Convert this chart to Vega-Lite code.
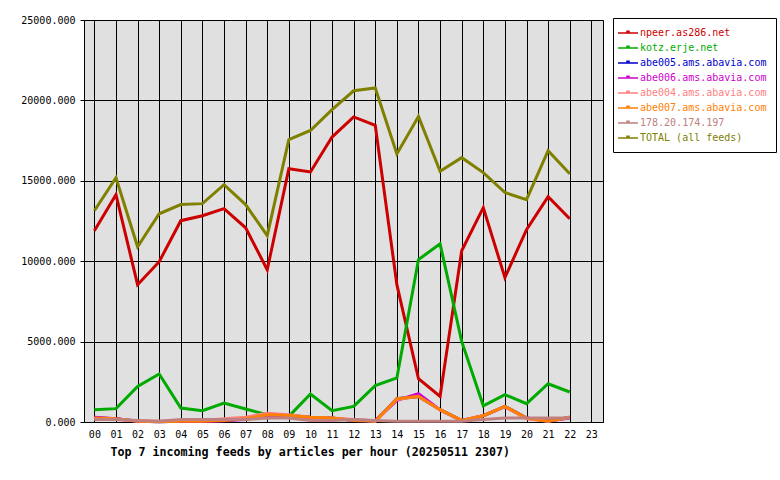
{
  "$schema": "https://vega.github.io/schema/vega-lite/v6.json",
  "width": 519,
  "height": 402,
  "autosize": {"type": "none"},
  "padding": {"left": 84, "top": 20, "right": 177, "bottom": 58},
  "background": "white",
  "config": {
    "view": {"fill": "#E0E0E0", "stroke": "black", "strokeWidth": 1},
    "font": "DejaVu Sans Mono"
  },
  "data": {"values": [
    {"h":0,"f":"npeer.as286.net","v":11900},{"h":1,"f":"npeer.as286.net","v":14140},{"h":2,"f":"npeer.as286.net","v":8540},{"h":3,"f":"npeer.as286.net","v":9970},{"h":4,"f":"npeer.as286.net","v":12520},{"h":5,"f":"npeer.as286.net","v":12830},{"h":6,"f":"npeer.as286.net","v":13270},{"h":7,"f":"npeer.as286.net","v":12080},{"h":8,"f":"npeer.as286.net","v":9470},{"h":9,"f":"npeer.as286.net","v":15750},{"h":10,"f":"npeer.as286.net","v":15550},{"h":11,"f":"npeer.as286.net","v":17720},{"h":12,"f":"npeer.as286.net","v":18970},{"h":13,"f":"npeer.as286.net","v":18450},{"h":14,"f":"npeer.as286.net","v":8540},{"h":15,"f":"npeer.as286.net","v":2690},{"h":16,"f":"npeer.as286.net","v":1590},{"h":17,"f":"npeer.as286.net","v":10650},{"h":18,"f":"npeer.as286.net","v":13330},{"h":19,"f":"npeer.as286.net","v":8980},{"h":20,"f":"npeer.as286.net","v":11960},{"h":21,"f":"npeer.as286.net","v":14010},{"h":22,"f":"npeer.as286.net","v":12640},
    {"h":0,"f":"kotz.erje.net","v":765},{"h":1,"f":"kotz.erje.net","v":830},{"h":2,"f":"kotz.erje.net","v":2215},{"h":3,"f":"kotz.erje.net","v":2985},{"h":4,"f":"kotz.erje.net","v":870},{"h":5,"f":"kotz.erje.net","v":700},{"h":6,"f":"kotz.erje.net","v":1180},{"h":7,"f":"kotz.erje.net","v":810},{"h":8,"f":"kotz.erje.net","v":450},{"h":9,"f":"kotz.erje.net","v":350},{"h":10,"f":"kotz.erje.net","v":1740},{"h":11,"f":"kotz.erje.net","v":700},{"h":12,"f":"kotz.erje.net","v":970},{"h":13,"f":"kotz.erje.net","v":2260},{"h":14,"f":"kotz.erje.net","v":2740},{"h":15,"f":"kotz.erje.net","v":10100},{"h":16,"f":"kotz.erje.net","v":11080},{"h":17,"f":"kotz.erje.net","v":5010},{"h":18,"f":"kotz.erje.net","v":1010},{"h":19,"f":"kotz.erje.net","v":1700},{"h":20,"f":"kotz.erje.net","v":1140},{"h":21,"f":"kotz.erje.net","v":2380},{"h":22,"f":"kotz.erje.net","v":1865},
    {"h":0,"f":"abe005.ams.abavia.com","v":250},{"h":1,"f":"abe005.ams.abavia.com","v":200},{"h":2,"f":"abe005.ams.abavia.com","v":50},{"h":3,"f":"abe005.ams.abavia.com","v":20},{"h":4,"f":"abe005.ams.abavia.com","v":50},{"h":5,"f":"abe005.ams.abavia.com","v":50},{"h":6,"f":"abe005.ams.abavia.com","v":100},{"h":7,"f":"abe005.ams.abavia.com","v":200},{"h":8,"f":"abe005.ams.abavia.com","v":450},{"h":9,"f":"abe005.ams.abavia.com","v":410},{"h":10,"f":"abe005.ams.abavia.com","v":300},{"h":11,"f":"abe005.ams.abavia.com","v":250},{"h":12,"f":"abe005.ams.abavia.com","v":100},{"h":13,"f":"abe005.ams.abavia.com","v":50},{"h":14,"f":"abe005.ams.abavia.com","v":1450},{"h":15,"f":"abe005.ams.abavia.com","v":1590},{"h":16,"f":"abe005.ams.abavia.com","v":765},{"h":17,"f":"abe005.ams.abavia.com","v":100},{"h":18,"f":"abe005.ams.abavia.com","v":390},{"h":19,"f":"abe005.ams.abavia.com","v":970},{"h":20,"f":"abe005.ams.abavia.com","v":250},{"h":21,"f":"abe005.ams.abavia.com","v":50},{"h":22,"f":"abe005.ams.abavia.com","v":300},
    {"h":0,"f":"abe006.ams.abavia.com","v":300},{"h":1,"f":"abe006.ams.abavia.com","v":200},{"h":2,"f":"abe006.ams.abavia.com","v":50},{"h":3,"f":"abe006.ams.abavia.com","v":30},{"h":4,"f":"abe006.ams.abavia.com","v":50},{"h":5,"f":"abe006.ams.abavia.com","v":50},{"h":6,"f":"abe006.ams.abavia.com","v":80},{"h":7,"f":"abe006.ams.abavia.com","v":150},{"h":8,"f":"abe006.ams.abavia.com","v":400},{"h":9,"f":"abe006.ams.abavia.com","v":380},{"h":10,"f":"abe006.ams.abavia.com","v":280},{"h":11,"f":"abe006.ams.abavia.com","v":220},{"h":12,"f":"abe006.ams.abavia.com","v":120},{"h":13,"f":"abe006.ams.abavia.com","v":80},{"h":14,"f":"abe006.ams.abavia.com","v":1350},{"h":15,"f":"abe006.ams.abavia.com","v":1760},{"h":16,"f":"abe006.ams.abavia.com","v":750},{"h":17,"f":"abe006.ams.abavia.com","v":80},{"h":18,"f":"abe006.ams.abavia.com","v":380},{"h":19,"f":"abe006.ams.abavia.com","v":950},{"h":20,"f":"abe006.ams.abavia.com","v":250},{"h":21,"f":"abe006.ams.abavia.com","v":60},{"h":22,"f":"abe006.ams.abavia.com","v":250},
    {"h":0,"f":"abe004.ams.abavia.com","v":200},{"h":1,"f":"abe004.ams.abavia.com","v":150},{"h":2,"f":"abe004.ams.abavia.com","v":80},{"h":3,"f":"abe004.ams.abavia.com","v":40},{"h":4,"f":"abe004.ams.abavia.com","v":100},{"h":5,"f":"abe004.ams.abavia.com","v":100},{"h":6,"f":"abe004.ams.abavia.com","v":200},{"h":7,"f":"abe004.ams.abavia.com","v":300},{"h":8,"f":"abe004.ams.abavia.com","v":550},{"h":9,"f":"abe004.ams.abavia.com","v":450},{"h":10,"f":"abe004.ams.abavia.com","v":300},{"h":11,"f":"abe004.ams.abavia.com","v":250},{"h":12,"f":"abe004.ams.abavia.com","v":150},{"h":13,"f":"abe004.ams.abavia.com","v":50},{"h":14,"f":"abe004.ams.abavia.com","v":1400},{"h":15,"f":"abe004.ams.abavia.com","v":1600},{"h":16,"f":"abe004.ams.abavia.com","v":750},{"h":17,"f":"abe004.ams.abavia.com","v":100},{"h":18,"f":"abe004.ams.abavia.com","v":400},{"h":19,"f":"abe004.ams.abavia.com","v":950},{"h":20,"f":"abe004.ams.abavia.com","v":200},{"h":21,"f":"abe004.ams.abavia.com","v":50},{"h":22,"f":"abe004.ams.abavia.com","v":300},
    {"h":0,"f":"abe007.ams.abavia.com","v":250},{"h":1,"f":"abe007.ams.abavia.com","v":200},{"h":2,"f":"abe007.ams.abavia.com","v":50},{"h":3,"f":"abe007.ams.abavia.com","v":20},{"h":4,"f":"abe007.ams.abavia.com","v":50},{"h":5,"f":"abe007.ams.abavia.com","v":50},{"h":6,"f":"abe007.ams.abavia.com","v":100},{"h":7,"f":"abe007.ams.abavia.com","v":200},{"h":8,"f":"abe007.ams.abavia.com","v":450},{"h":9,"f":"abe007.ams.abavia.com","v":410},{"h":10,"f":"abe007.ams.abavia.com","v":300},{"h":11,"f":"abe007.ams.abavia.com","v":250},{"h":12,"f":"abe007.ams.abavia.com","v":100},{"h":13,"f":"abe007.ams.abavia.com","v":50},{"h":14,"f":"abe007.ams.abavia.com","v":1450},{"h":15,"f":"abe007.ams.abavia.com","v":1590},{"h":16,"f":"abe007.ams.abavia.com","v":765},{"h":17,"f":"abe007.ams.abavia.com","v":100},{"h":18,"f":"abe007.ams.abavia.com","v":390},{"h":19,"f":"abe007.ams.abavia.com","v":970},{"h":20,"f":"abe007.ams.abavia.com","v":250},{"h":21,"f":"abe007.ams.abavia.com","v":50},{"h":22,"f":"abe007.ams.abavia.com","v":300},
    {"h":0,"f":"178.20.174.197","v":150},{"h":1,"f":"178.20.174.197","v":150},{"h":2,"f":"178.20.174.197","v":100},{"h":3,"f":"178.20.174.197","v":50},{"h":4,"f":"178.20.174.197","v":150},{"h":5,"f":"178.20.174.197","v":150},{"h":6,"f":"178.20.174.197","v":150},{"h":7,"f":"178.20.174.197","v":150},{"h":8,"f":"178.20.174.197","v":250},{"h":9,"f":"178.20.174.197","v":250},{"h":10,"f":"178.20.174.197","v":100},{"h":11,"f":"178.20.174.197","v":100},{"h":12,"f":"178.20.174.197","v":150},{"h":13,"f":"178.20.174.197","v":100},{"h":14,"f":"178.20.174.197","v":50},{"h":15,"f":"178.20.174.197","v":50},{"h":16,"f":"178.20.174.197","v":50},{"h":17,"f":"178.20.174.197","v":50},{"h":18,"f":"178.20.174.197","v":150},{"h":19,"f":"178.20.174.197","v":250},{"h":20,"f":"178.20.174.197","v":250},{"h":21,"f":"178.20.174.197","v":250},{"h":22,"f":"178.20.174.197","v":250},
    {"h":0,"f":"TOTAL (all feeds)","v":13140},{"h":1,"f":"TOTAL (all feeds)","v":15190},{"h":2,"f":"TOTAL (all feeds)","v":10900},{"h":3,"f":"TOTAL (all feeds)","v":12950},{"h":4,"f":"TOTAL (all feeds)","v":13520},{"h":5,"f":"TOTAL (all feeds)","v":13580},{"h":6,"f":"TOTAL (all feeds)","v":14760},{"h":7,"f":"TOTAL (all feeds)","v":13520},{"h":8,"f":"TOTAL (all feeds)","v":11590},{"h":9,"f":"TOTAL (all feeds)","v":17560},{"h":10,"f":"TOTAL (all feeds)","v":18130},{"h":11,"f":"TOTAL (all feeds)","v":19420},{"h":12,"f":"TOTAL (all feeds)","v":20600},{"h":13,"f":"TOTAL (all feeds)","v":20770},{"h":14,"f":"TOTAL (all feeds)","v":16670},{"h":15,"f":"TOTAL (all feeds)","v":19000},{"h":16,"f":"TOTAL (all feeds)","v":15590},{"h":17,"f":"TOTAL (all feeds)","v":16440},{"h":18,"f":"TOTAL (all feeds)","v":15510},{"h":19,"f":"TOTAL (all feeds)","v":14270},{"h":20,"f":"TOTAL (all feeds)","v":13830},{"h":21,"f":"TOTAL (all feeds)","v":16870},{"h":22,"f":"TOTAL (all feeds)","v":15440}
  ]},
  "mark": {"type": "line", "strokeWidth": 3, "strokeCap": "butt", "strokeJoin": "miter"},
  "encoding": {
    "x": {
      "field": "h", "type": "quantitative",
      "scale": {"domain": [-0.48, 23.54], "nice": false, "zero": false},
      "axis": {
        "values": [0,1,2,3,4,5,6,7,8,9,10,11,12,13,14,15,16,17,18,19,20,21,22,23],
        "labelExpr": "datum.value < 10 ? '0' + datum.value : '' + datum.value",
        "grid": true, "gridColor": "black", "gridOpacity": 1, "gridWidth": 1,
        "domain": false, "ticks": false, "labelPadding": 7,
        "labelFont": "DejaVu Sans Mono", "labelFontSize": 10, "labelColor": "black",
        "title": "Top 7 incoming feeds by articles per hour (20250511 2307)",
        "titleFont": "DejaVu Sans Mono", "titleFontSize": 11.65, "titleFontWeight": "bold",
        "titleColor": "black", "titleAlign": "left", "titleBaseline": "middle",
        "titleX": 26, "titleY": 30
      }
    },
    "y": {
      "field": "v", "type": "quantitative",
      "scale": {"domain": [0, 25000], "nice": false},
      "axis": {
        "values": [0, 5000, 10000, 15000, 20000, 25000],
        "format": ".3f",
        "grid": true, "gridColor": "black", "gridOpacity": 1, "gridWidth": 1,
        "domain": false, "ticks": true, "tickSize": 4, "tickColor": "black",
        "labelPadding": 5, "labelFont": "DejaVu Sans Mono", "labelFontSize": 10, "labelColor": "black",
        "title": null
      }
    },
    "color": {
      "field": "f", "type": "nominal", "sort": null,
      "scale": {
        "domain": ["npeer.as286.net", "kotz.erje.net", "abe005.ams.abavia.com", "abe006.ams.abavia.com", "abe004.ams.abavia.com", "abe007.ams.abavia.com", "178.20.174.197", "TOTAL (all feeds)"],
        "range": ["#CC0000", "#00AA00", "#0000CC", "#CC00CC", "#FF8080", "#FF8000", "#C08080", "#808000"]
      },
      "legend": {
        "orient": "none", "legendX": 529, "legendY": -2,
        "title": null,
        "strokeColor": "black", "fillColor": "white", "padding": 9,
        "symbolType": "M-2,0H2M-0.2,0V-0.35H0.2V0",
        "symbolSize": 100, "symbolStrokeWidth": 1.5, "symbolFillColor": "transparent",
        "labelFont": "DejaVu Sans Mono", "labelFontSize": 10, "labelOffset": 6,
        "rowPadding": 4, "labelLimit": 300,
        "encode": {"labels": {"update": {"fill": {"scale": "color", "field": "value"}}}}
      }
    }
  }
}
